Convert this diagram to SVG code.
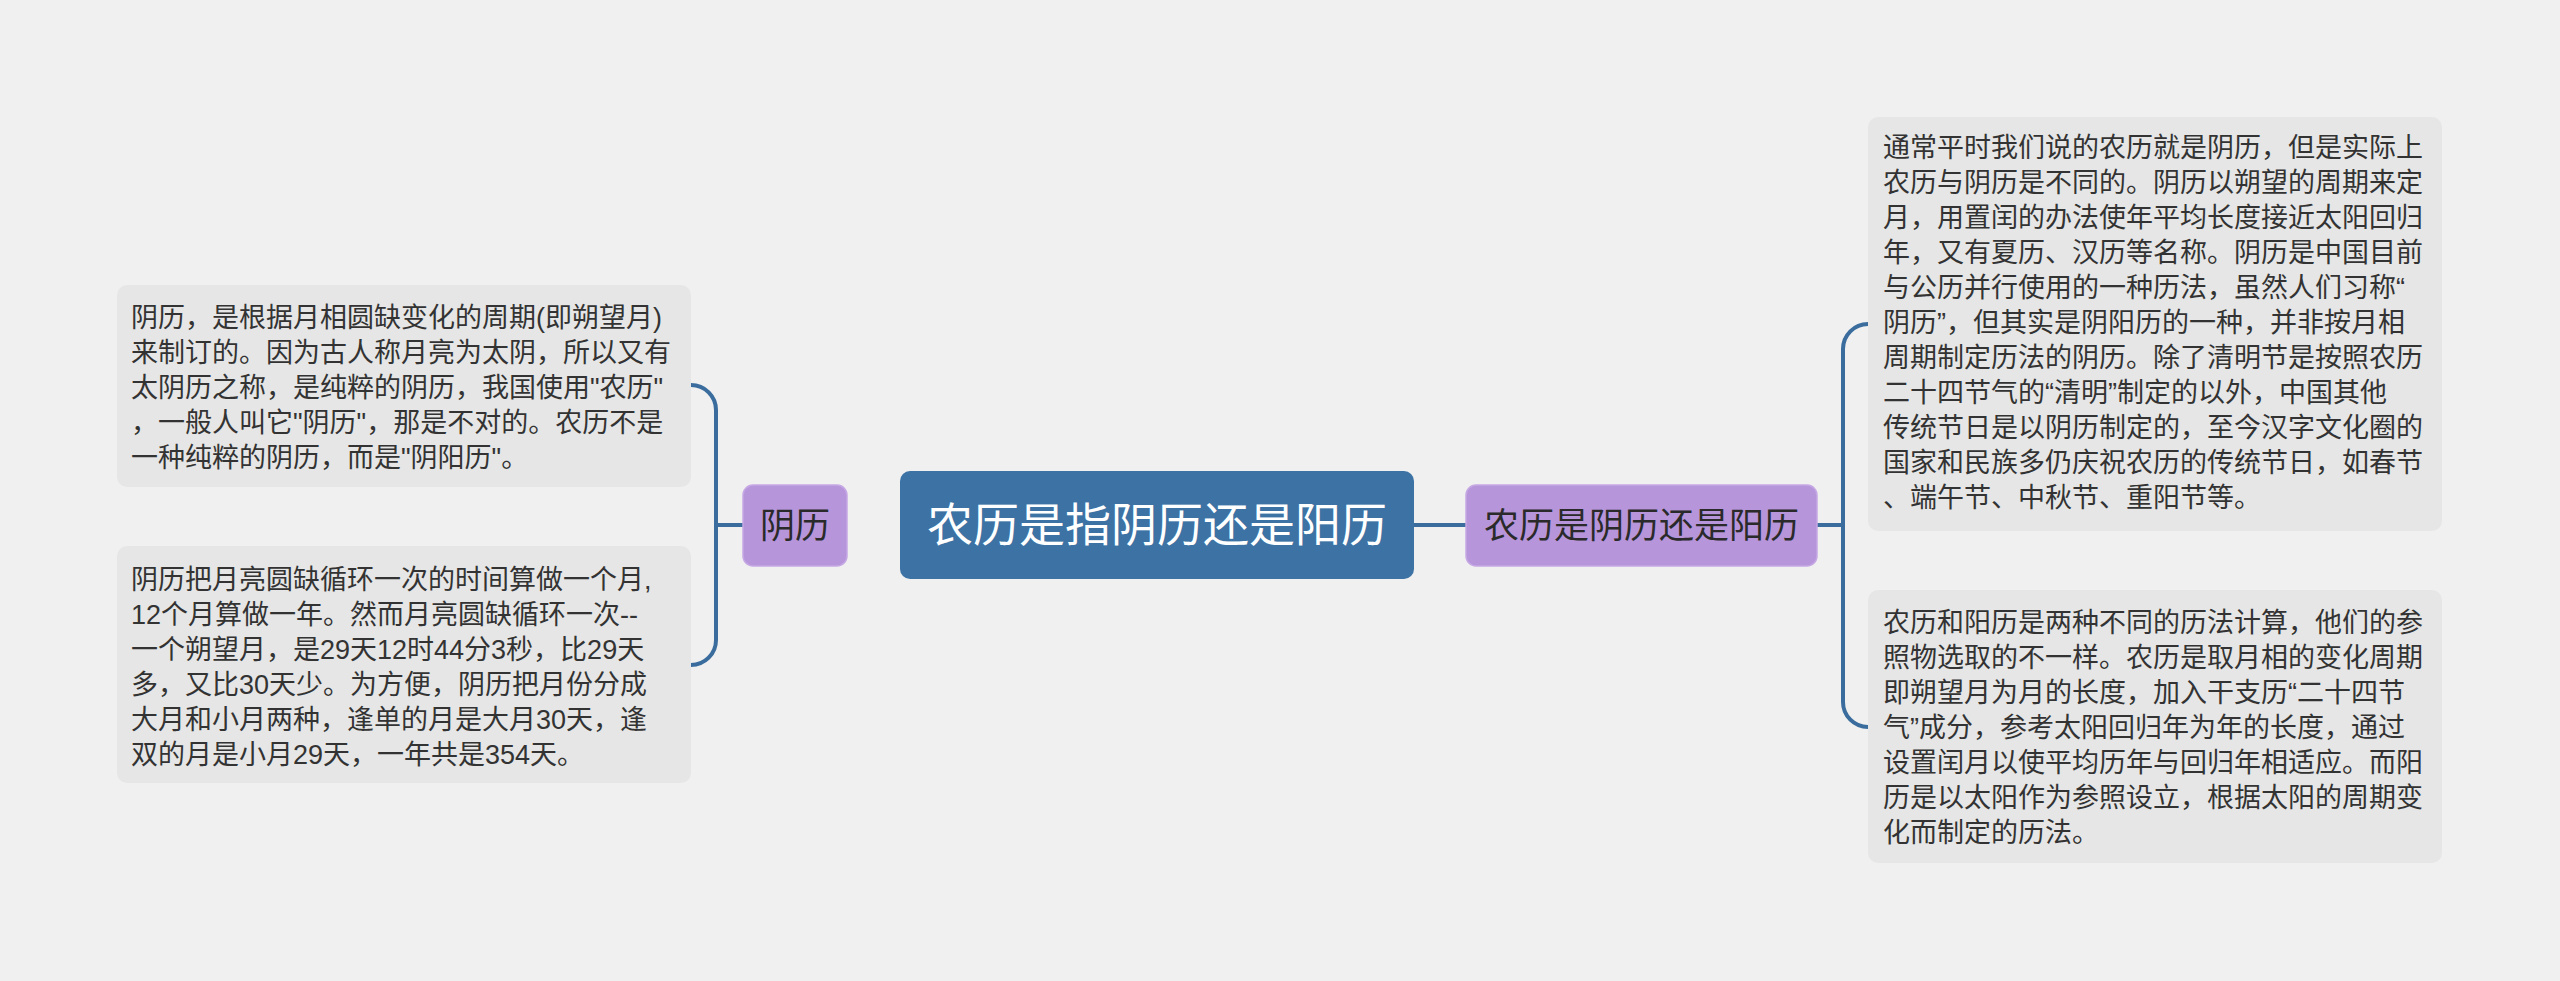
<svg xmlns="http://www.w3.org/2000/svg" width="2560" height="981" viewBox="0 0 2560 981">
<style>
.bg{fill:#f0f0f0}
.conn{fill:none;stroke:#3a6d9d;stroke-width:4;stroke-linecap:butt}
.leaf{fill:#e6e6e6}
.sub{fill:#b795da;stroke:#c6a8e4;stroke-width:1.5}
.root{fill:#3c72a4}
.t{font-family:"Liberation Sans","Noto Sans CJK SC",sans-serif;font-size:27px;fill:#333333}
.ts{font-family:"Noto Sans CJK SC","Liberation Sans",sans-serif;font-size:35px;fill:#2a2a2a;text-anchor:middle}
.tr{font-family:"Noto Sans CJK SC","Liberation Sans",sans-serif;font-size:46px;fill:#ffffff;text-anchor:middle}
</style>
<rect class="bg" x="0" y="0" width="2560" height="981"/>
<g id="connectors">
<path class="conn" d="M743,525 H717"/>
<path class="conn" d="M691,385 A25,25 0 0 1 716,410 V640 A25,25 0 0 1 691,665"/>
<path class="conn" d="M1414,525 H1466"/>
<path class="conn" d="M1817,525 H1843"/>
<path class="conn" d="M1868,324 A25,25 0 0 0 1843,349 V702 A25,25 0 0 0 1868,727"/>
</g>
<g id="root">
<rect class="root" x="900" y="471" width="514" height="108" rx="10"/>
<text class="tr" x="1157" y="541">农历是指阴历还是阳历</text>
</g>
<g id="yinli">
<rect class="sub" x="743" y="485" width="104" height="81" rx="10"/>
<text class="ts" x="795" y="538">阴历</text>
</g>
<g id="nongli">
<rect class="sub" x="1466" y="485" width="351" height="81" rx="10"/>
<text class="ts" x="1641.5" y="538">农历是阴历还是阳历</text>
</g>
<g id="leaf-left-1">
<rect class="leaf" x="117" y="285" width="574" height="202" rx="10"/>
<text class="t" x="131"><tspan x="131" y="327">阴历，是根据月相圆缺变化的周期(即朔望月)</tspan><tspan x="131" y="362">来制订的。因为古人称月亮为太阴，所以又有</tspan><tspan x="131" y="397">太阴历之称，是纯粹的阴历，我国使用"农历"</tspan><tspan x="131" y="432">，一般人叫它"阴历"，那是不对的。农历不是</tspan><tspan x="131" y="467">一种纯粹的阴历，而是"阴阳历"。</tspan></text>
</g>
<g id="leaf-left-2">
<rect class="leaf" x="117" y="546" width="574" height="237" rx="10"/>
<text class="t" x="131"><tspan x="131" y="589">阴历把月亮圆缺循环一次的时间算做一个月,</tspan><tspan x="131" y="624">12个月算做一年。然而月亮圆缺循环一次--</tspan><tspan x="131" y="659">一个朔望月，是29天12时44分3秒，比29天</tspan><tspan x="131" y="694">多，又比30天少。为方便，阴历把月份分成</tspan><tspan x="131" y="729">大月和小月两种，逢单的月是大月30天，逢</tspan><tspan x="131" y="764">双的月是小月29天，一年共是354天。</tspan></text>
</g>
<g id="leaf-right-1">
<rect class="leaf" x="1868" y="117" width="574" height="414" rx="10"/>
<text class="t" x="1883"><tspan x="1883" y="157">通常平时我们说的农历就是阴历，但是实际上</tspan><tspan x="1883" y="192">农历与阴历是不同的。阴历以朔望的周期来定</tspan><tspan x="1883" y="227">月，用置闰的办法使年平均长度接近太阳回归</tspan><tspan x="1883" y="262">年，又有夏历、汉历等名称。阴历是中国目前</tspan><tspan x="1883" y="297">与公历并行使用的一种历法，虽然人们习称“</tspan><tspan x="1883" y="332">阴历”，但其实是阴阳历的一种，并非按月相</tspan><tspan x="1883" y="367">周期制定历法的阴历。除了清明节是按照农历</tspan><tspan x="1883" y="402">二十四节气的“清明”制定的以外，中国其他</tspan><tspan x="1883" y="437">传统节日是以阴历制定的，至今汉字文化圈的</tspan><tspan x="1883" y="472">国家和民族多仍庆祝农历的传统节日，如春节</tspan><tspan x="1883" y="507">、端午节、中秋节、重阳节等。</tspan></text>
</g>
<g id="leaf-right-2">
<rect class="leaf" x="1868" y="590" width="574" height="273" rx="10"/>
<text class="t" x="1883"><tspan x="1883" y="632">农历和阳历是两种不同的历法计算，他们的参</tspan><tspan x="1883" y="667">照物选取的不一样。农历是取月相的变化周期</tspan><tspan x="1883" y="702">即朔望月为月的长度，加入干支历“二十四节</tspan><tspan x="1883" y="737">气”成分，参考太阳回归年为年的长度，通过</tspan><tspan x="1883" y="772">设置闰月以使平均历年与回归年相适应。而阳</tspan><tspan x="1883" y="807">历是以太阳作为参照设立，根据太阳的周期变</tspan><tspan x="1883" y="842">化而制定的历法。</tspan></text>
</g>
</svg>
